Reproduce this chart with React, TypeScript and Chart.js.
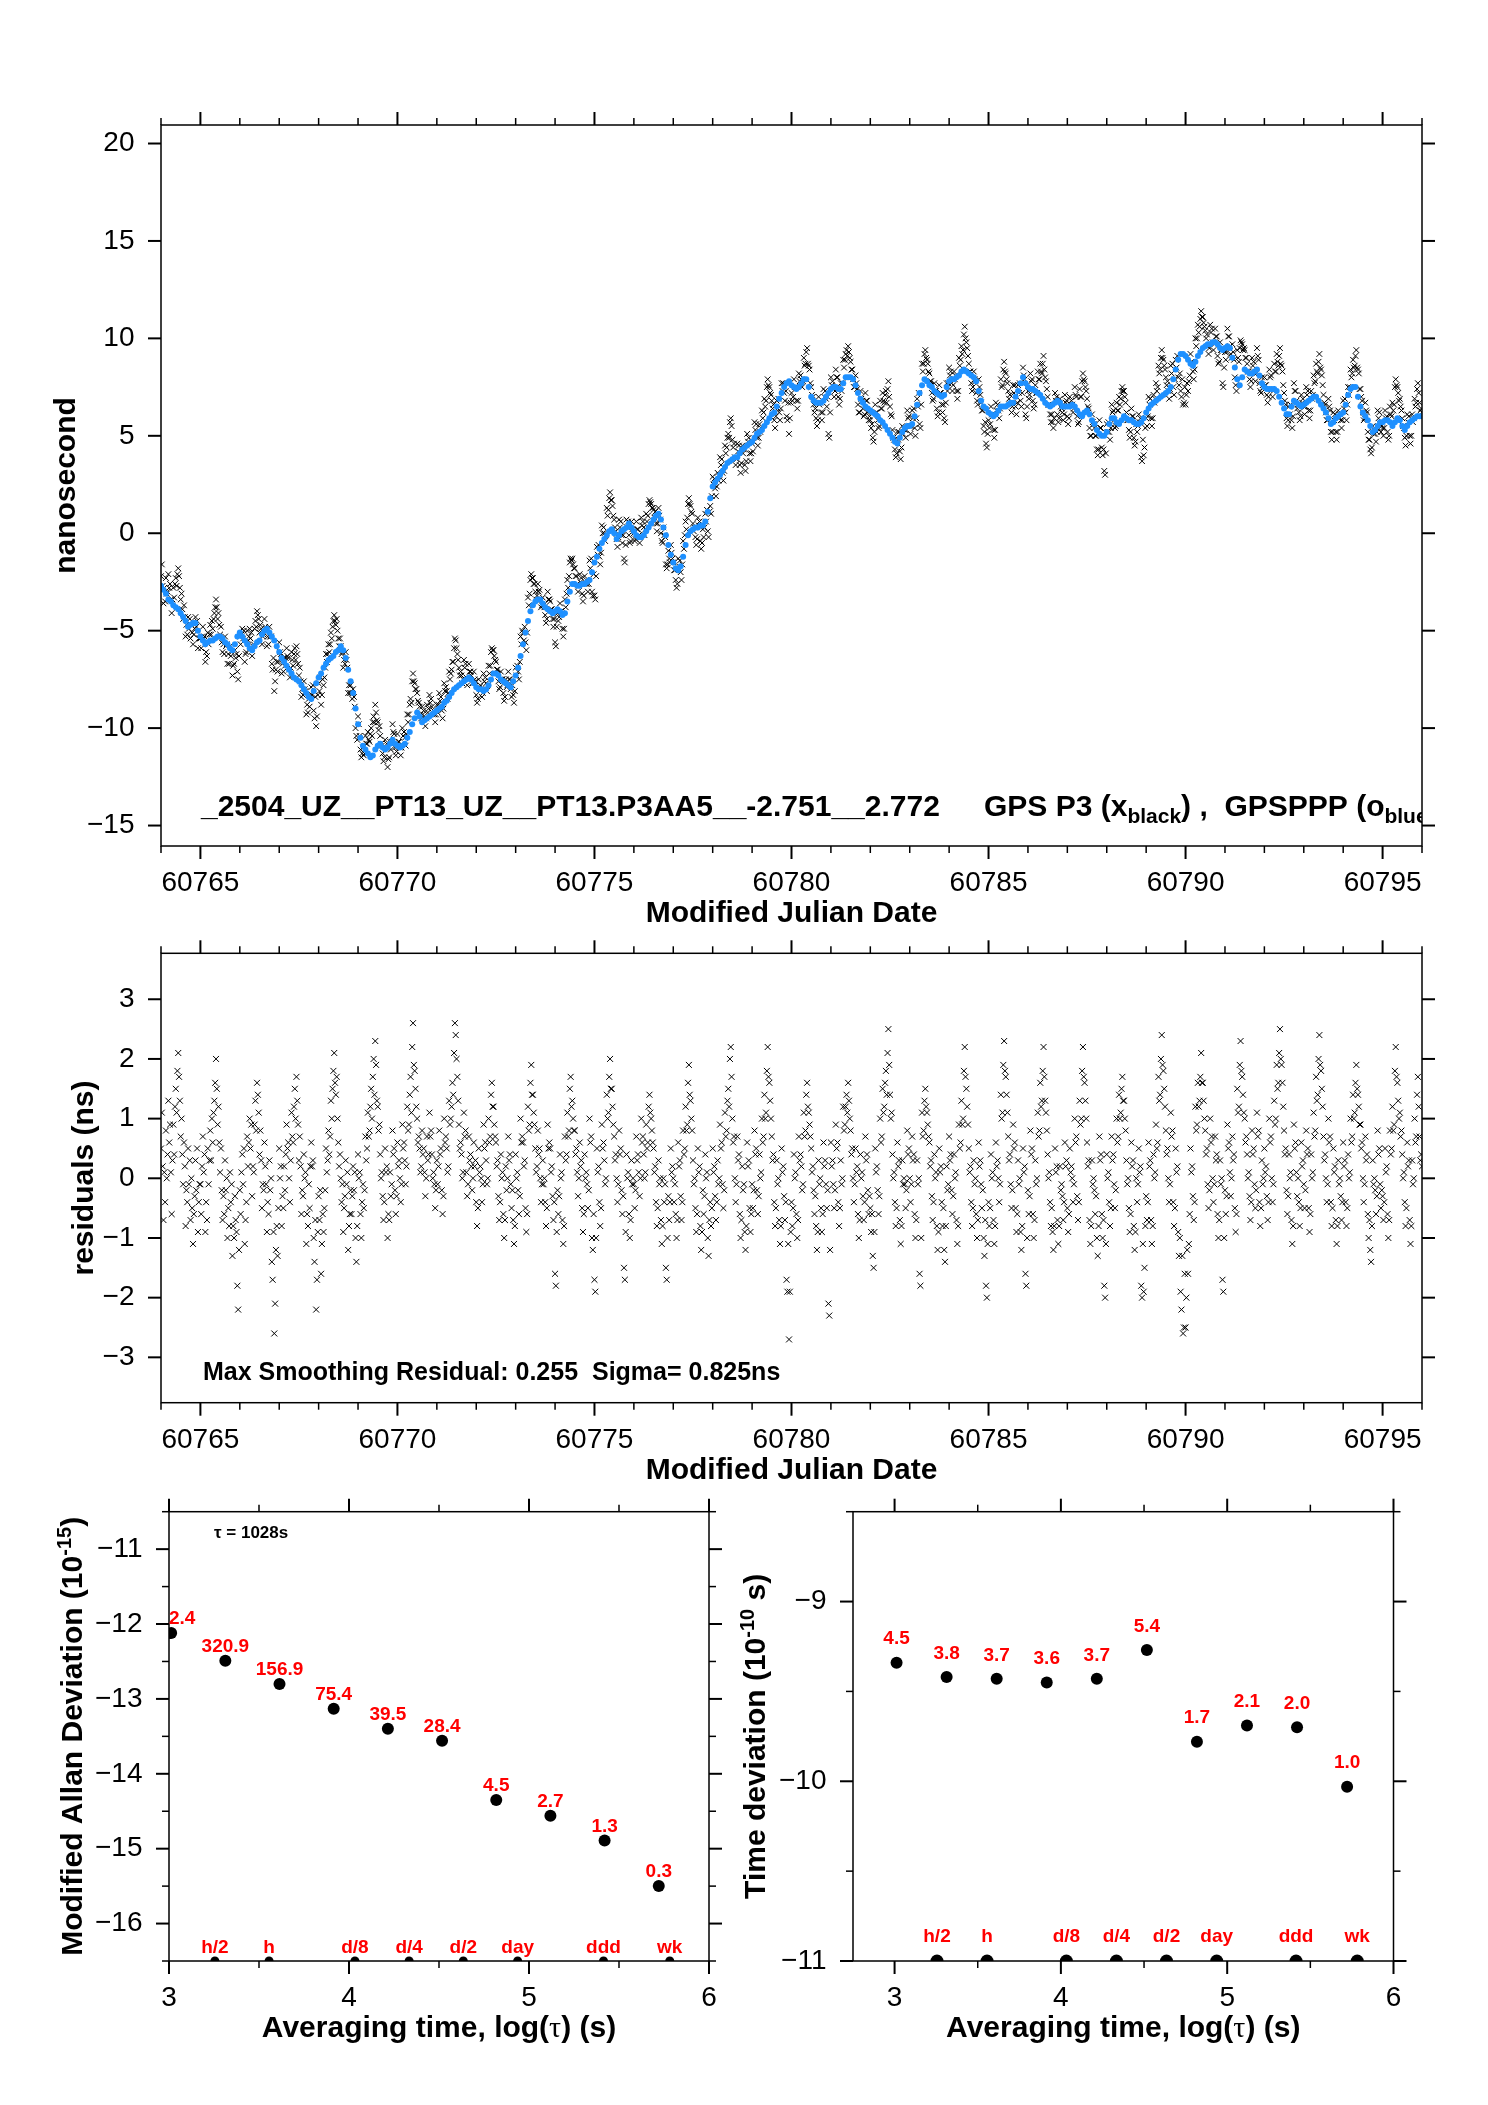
import React, { useEffect, useRef } from "react";
import { Chart, registerables } from "chart.js";

Chart.register(...registerables);

// ---------------- data ----------------
const MJD_START = 60764;
const SMOOTH_PER_DAY = 16;
const RESID_PER_DAY = 48;

// smoothed GPSPPP curve (blue), tenths of ns, 16 samples per day
const smoothTenthsNs = [
  -27, -29, -31, -34, -35, -37, -38, -39, -41, -43, -45, -48, -47, -46, -46, -50,
  -53, -55, -57, -56, -55, -55, -54, -53, -53, -54, -56, -57, -59, -60, -57, -53,
  -51, -53, -55, -57, -59, -60, -58, -56, -55, -52, -50, -49, -51, -53, -55, -58,
  -61, -64, -66, -68, -70, -72, -74, -75, -76, -78, -80, -82, -84, -85, -81, -77,
  -74, -72, -69, -67, -65, -64, -63, -61, -60, -58, -60, -64, -70, -76, -82, -90,
  -98, -105, -109, -111, -113, -115, -114, -111, -109, -108, -110, -111, -110, -108, -106, -108,
  -109, -110, -109, -108, -105, -102, -98, -95, -92, -94, -97, -96, -95, -94, -93, -92,
  -91, -90, -89, -87, -86, -84, -82, -80, -79, -78, -77, -76, -75, -74, -75, -77,
  -79, -80, -80, -81, -80, -78, -75, -72, -72, -73, -75, -76, -77, -78, -79, -76,
  -73, -69, -63, -57, -51, -45, -40, -37, -35, -34, -34, -36, -38, -39, -40, -41,
  -40, -39, -40, -42, -41, -35, -30, -26, -26, -27, -27, -26, -26, -25, -24, -20,
  -15, -12, -8, -5, -3, -1, 1, 2, 0, -3, -1, 1, 2, 3, 5, 3,
  1, -1, -2, -2, -1, 1, 3, 5, 7, 9, 10, 7, 3, -1, -6, -11,
  -15, -18, -19, -17, -12, -6, -1, 1, 2, 3, 3, 4, 4, 6, 11, 18,
  24, 26, 28, 30, 32, 34, 36, 37, 38, 39, 39, 41, 43, 44, 45, 46,
  47, 49, 51, 52, 53, 55, 57, 59, 61, 62, 65, 69, 72, 75, 77, 78,
  76, 75, 74, 75, 77, 79, 79, 75, 70, 68, 67, 67, 67, 68, 70, 72,
  74, 75, 75, 74, 74, 77, 80, 80, 80, 79, 76, 72, 69, 67, 65, 64,
  63, 62, 61, 60, 58, 57, 55, 53, 51, 49, 47, 46, 49, 52, 54, 55,
  55, 56, 60, 66, 72, 76, 79, 78, 76, 75, 73, 72, 71, 70, 71, 75,
  78, 79, 79, 80, 81, 83, 84, 83, 82, 81, 80, 78, 73, 68, 65, 64,
  62, 61, 60, 61, 63, 65, 65, 65, 66, 67, 67, 70, 73, 77, 80, 77,
  75, 74, 74, 73, 72, 71, 69, 67, 66, 65, 66, 67, 68, 67, 65, 65,
  65, 65, 66, 65, 63, 61, 60, 62, 63, 61, 58, 56, 53, 51, 50, 50,
  52, 56, 59, 59, 57, 56, 58, 60, 59, 58, 58, 57, 56, 56, 57, 59,
  62, 64, 66, 67, 68, 69, 70, 71, 72, 73, 75, 79, 84, 89, 92, 92,
  91, 89, 87, 86, 88, 91, 93, 95, 96, 97, 97, 98, 98, 97, 95, 94,
  95, 96, 95, 90, 85, 79, 76, 80, 84, 83, 82, 82, 83, 84, 81, 77,
  75, 74, 74, 74, 74, 73, 70, 67, 64, 61, 61, 65, 68, 67, 66, 65,
  66, 67, 68, 69, 70, 70, 68, 66, 64, 62, 59, 56, 57, 59, 60, 61,
  62, 66, 71, 74, 75, 75, 70, 65, 62, 60, 58, 55, 52, 53, 55, 57,
  57, 58, 58, 57, 55, 57, 59, 58, 55, 53, 55, 57, 58, 59, 60, 60,
  60,
];

// residuals of GPS P3 about the smoothed curve, tenths of ns, 48 samples per day
const residualTenthsNs = [
  5, 11, 2, -7, 1, -4, 8, 0, 4, 13, 6, 9, 1, -6, 3, 9, 4, 12, 15, 11, 18, 21, 17, 13, 7, 10, 4, -1, 6, 2, -8, -2, -4, 5, -1, 3, -7, 0, -5, -11, -6, -3, 3, -2, 5, -9, -4, -1,
  -1, -6, 2, 7, 1, 4, -9, -4, -7, 5, -1, 3, 8, 3, 10, 6, 11, 13, 16, 20, 15, 9, 12, 6, 1, 5, -2, -7, -3, -6, 3, -2, 0, -10, -5, -8, 1, -4, -1, -13, -8, -10, -3, -7, -9, -18, -22, -12,
  -2, -6, 1, 4, -1, 5, -11, -7, -4, 7, 2, 6, 10, 5, 9, -3, 2, 1, 9, 13, 8, 16, 14, 11, 4, 8, 3, -5, -1, -2, 6, 2, -1, -9, -4, -6, 3, -2, 0, -14, -17, -9, -26, -21, -12, -8, -13, -5,
  5, 0, 2, -8, -3, -5, 2, -2, 4, 9, 5, 6, 0, -4, 3, 11, 7, 6, 12, 15, 10, 17, 13, 9, 3, 7, 2, -6, -2, -3, 4, 0, 1, -11, -6, -8, -1, -5, 2, 6, 2, 3, -10, -14, -7, -22, -17, -9,
  -3, -7, -2, -16, -11, -6, -9, -5, -2, 5, 1, 3, 8, 4, 7, 13, 10, 15, 18, 21, 16, 14, 17, 10, 6, 2, 4, 0, -4, -1, -9, -5, -3, 3, -1, 1, -12, -8, -6, -2, -6, -3, 2, -2, 1, -10, -14, -8,
  4, 0, 1, -6, -10, -4, -1, -5, -2, 7, 3, 5, 11, 7, 8, 12, 15, 10, 17, 20, 14, 23, 19, 13, 12, 8, 9, 4, 0, 1, -3, -7, -4, 5, 1, 2, -10, -6, -7, 1, -3, -1, 8, 4, 5, -2, -6, -3,
  6, 2, 3, 0, -4, -1, 9, 5, 6, 3, -1, 2, 12, 8, 9, 14, 17, 11, 22, 26, 19, 18, 15, 12, 10, 6, 7, 5, 1, 2, 8, 4, 5, 1, -3, 0, 7, 3, 4, 11, 7, 8, 4, 0, 1, -1, -5, -2,
  3, -1, 2, 8, 4, 5, -2, -6, -3, 10, 6, 7, 5, 1, 2, 13, 9, 10, 12, 16, 14, 21, 26, 24, 20, 17, 13, 9, 5, 6, 4, 0, 1, 11, 7, 8, 1, -3, -1, 7, 3, 4, 2, -2, 0, 6, 2, 3,
  -4, -8, -5, 5, 1, 2, 0, -4, -1, 9, 5, 6, 3, -1, 0, 10, 6, 7, 14, 16, 12, 12, 9, 7, 6, 2, 3, -3, -7, -4, 4, 0, 1, -6, -10, -7, 2, -2, 0, 7, 3, 4, -1, -5, -2, -7, -11, -8,
  4, 0, 1, -2, -6, -3, 10, 6, 7, 6, 2, 3, -5, -9, -6, 12, 8, 9, 16, 19, 14, 14, 11, 9, 5, 1, 2, 8, 4, 5, 0, -4, -1, 3, -1, 0, -4, -8, -5, 9, 5, 6, 5, 1, 2, -3, -7, -4,
  -16, -18, -9, -2, -6, -3, 4, 0, 1, -7, -11, -8, 7, 3, 4, 11, 7, 8, 15, 17, 12, 13, 10, 8, 8, 4, 5, 1, -3, 0, 6, 2, 3, -5, -9, -6, 4, 0, 1, -1, -5, -2, 10, 6, 7, -10, -12, -6,
  -17, -19, -10, 5, 1, 2, -4, -8, -5, 9, 5, 6, 3, -1, 0, 14, 10, 11, 17, 20, 15, 15, 12, 9, 7, 3, 4, 0, -4, -1, 8, 4, 5, -2, -6, -3, -15, -17, -9, 4, 0, 1, -6, -10, -7, 3, -1, 0,
  -1, -5, -2, 7, 3, 4, 1, -3, 0, 10, 6, 7, 4, 0, 1, 9, 5, 6, 12, 14, 11, 10, 8, 6, 5, 1, 2, -4, -8, -5, 3, -1, 0, -7, -11, -8, 0, -4, -1, -15, -17, -10, -3, -7, -4, 5, 1, 2,
  0, -4, -1, -6, -10, -7, 6, 2, 3, -3, -7, -4, 8, 4, 5, 12, 8, 9, 16, 19, 14, 13, 10, 8, 3, -1, 0, -5, -9, -6, 5, 1, 2, -8, -12, -9, -2, -6, -3, 4, 0, 1, -10, -13, -7, -4, -8, -5,
  5, 1, 2, -3, -7, -4, 3, -1, 0, 9, 5, 6, -1, -5, -2, 11, 7, 8, 13, 15, 12, 20, 22, 17, 10, 6, 7, 0, -4, -1, 7, 3, 4, -6, -10, -7, 2, -2, -1, -9, -12, -8, 6, 2, 3, -5, -9, -6,
  -1, -5, -2, 8, 4, 5, -2, -6, -3, 4, 0, 1, 10, 6, 7, 14, 10, 11, 18, 22, 17, 16, 13, 10, 7, 3, 4, -4, -8, -5, 3, -1, 0, -7, -11, -8, 5, 1, 2, -3, -7, -4, -17, -19, -11, -27, -19, -9,
  -4, -8, -5, 4, 0, 1, -6, -10, -7, 7, 3, 4, 2, -2, -1, 11, 7, 8, 14, 16, 12, 11, 9, 7, 5, 1, 2, -2, -6, -3, -8, -12, -9, 3, -1, 0, -5, -9, -6, 6, 2, 3, -1, -5, -2, -21, -23, -12,
  6, 2, 3, -1, -5, -2, 9, 5, 6, -4, -8, -5, 3, -1, 0, 12, 8, 9, 12, 14, 11, 16, 13, 10, 8, 4, 5, 0, -4, -1, 5, 1, 2, -6, -10, -7, 4, 0, 1, -3, -7, -4, 7, 3, 4, -2, -6, -3,
  -5, -9, -6, -13, -15, -9, 5, 1, 2, -2, -6, -3, 10, 6, 7, 15, 11, 12, 16, 18, 14, 21, 25, 19, 14, 10, 11, 4, 0, 1, -4, -8, -5, 6, 2, 3, -7, -11, -8, 3, -1, 0, -1, -5, -2, 8, 4, 5,
  0, -4, -1, 7, 3, 4, -6, -10, -7, 3, -1, 0, -16, -18, -10, 11, 7, 8, 13, 15, 12, 11, 9, 7, 6, 2, 3, -3, -7, -4, 4, 0, 1, -8, -12, -9, 5, 1, 2, -4, -8, -5, -12, -14, -8, 2, -2, -1,
  7, 3, 4, -2, -6, -3, 4, 0, 1, -7, -11, -8, 9, 5, 6, 13, 9, 10, 18, 22, 17, 15, 12, 9, 5, 1, 2, -4, -8, -5, 3, -1, 0, -6, -10, -7, 6, 2, 3, -1, -5, -2, -10, -13, -7, -18, -20, -11,
  -4, -8, -5, 4, 0, 1, -7, -11, -8, 6, 2, 3, 0, -4, -1, 14, 10, 11, 19, 23, 18, 17, 14, 11, 7, 3, 4, -1, -5, -2, 9, 5, 6, -5, -9, -6, 3, -1, 0, -9, -12, -8, 5, 1, 2, -16, -18, -10,
  -2, -6, -3, 8, 4, 5, -6, -10, -7, 3, -1, 0, 11, 7, 8, 16, 12, 13, 18, 22, 17, 13, 11, 8, 4, 0, 1, -4, -8, -5, -9, -12, -8, 5, 1, 2, -7, -11, -8, 2, -2, -1, -3, -7, -4, 6, 2, 3,
  -5, -9, -6, 5, 1, 2, 0, -4, -1, 10, 6, 7, -3, -7, -4, 13, 9, 10, 18, 22, 17, 16, 13, 10, 6, 2, 3, -7, -11, -8, 3, -1, 0, -2, -6, -3, -10, -13, -8, 7, 3, 4, -6, -10, -7, -18, -20, -11,
  4, 0, 1, -4, -8, -5, 7, 3, 4, -1, -5, -2, 10, 6, 7, 14, 10, 11, 15, 17, 13, 13, 10, 8, 3, -1, 0, -5, -9, -6, 6, 2, 3, -8, -12, -9, 0, -4, -1, 5, 1, 2, -18, -20, -11, -19, -15, -8,
  -3, -7, -4, 6, 2, 3, -7, -11, -8, 4, 0, 1, 9, 5, 6, 17, 13, 14, 20, 24, 19, 18, 15, 12, 8, 4, 5, 0, -4, -1, 11, 7, 8, -4, -8, -5, 5, 1, 2, -9, -13, -10, -19, -22, -13, -26, -25, -16,
  -25, -20, -12, -16, -11, -6, 5, 1, 2, -3, -7, -4, 12, 8, 9, 16, 12, 13, 17, 21, 16, 16, 13, 10, 8, 4, 5, -1, -5, -2, 10, 6, 7, 0, -4, -1, 7, 3, 4, -6, -10, -7, 3, -1, 0, -17, -19, -10,
  -2, -6, -3, 9, 5, 6, 1, -3, 0, 7, 3, 4, -5, -9, -6, 15, 11, 12, 19, 23, 18, 17, 14, 11, 10, 6, 7, 4, 0, 1, -3, -7, -4, 8, 4, 5, -1, -5, -2, 11, 7, 8, -4, -8, -5, 3, -1, 0,
  5, 1, 2, -3, -7, -4, 10, 6, 7, 0, -4, -1, 13, 9, 10, 19, 15, 16, 21, 25, 20, 19, 16, 12, 8, 4, 5, -2, -6, -3, 4, 0, 1, -7, -11, -8, 9, 5, 6, 1, -3, 0, -4, -8, -5, 6, 2, 3,
  -1, -5, -2, 8, 4, 5, -5, -9, -6, 4, 0, 1, 11, 7, 8, 17, 13, 14, 20, 24, 19, 18, 15, 12, 7, 3, 4, 0, -4, -1, 10, 6, 7, -4, -8, -5, 5, 1, 2, -7, -11, -8, 3, -1, 0, -3, -7, -4,
  6, 2, 3, -4, -8, -5, 4, 0, 1, 10, 6, 7, 14, 10, 11, 16, 19, 15, 14, 12, 9, 9, 5, 6, 0, -4, -1, 7, 3, 4, -6, -10, -7, -12, -14, -8, 3, -1, 0, -2, -6, -3, 8, 4, 5, -1, -5, -2,
  -3, -7, -4, 5, 1, 2, -6, -10, -7, 8, 4, 5, 12, 8, 9, 18, 22, 17, 16, 13, 10, 11, 7, 8, 4, 0, 1, -4, -8, -5, 6, 2, 3, -7, -11, -8, 3, -1, 0, 10, 6, 7, 14, 17, 12, 7, 3, 4,
  2,
];

const mjdTickLabels = [60765, 60770, 60775, 60780, 60785, 60790, 60795];
const nsTickLabels = [-15, -10, -5, 0, 5, 10, 15, 20];
const residTickLabels = [-3, -2, -1, 0, 1, 2, 3];

const logTau = [3.012, 3.313, 3.614, 3.915, 4.216, 4.517, 4.818, 5.119, 5.42, 5.721];
const logModAdev = [-12.12, -12.49, -12.8, -13.13, -13.4, -13.56, -14.35, -14.56, -14.89, -15.5];
const modAdevNotes = ["2.4", "320.9", "156.9", "75.4", "39.5", "28.4", "4.5", "2.7", "1.3", "0.3"];
const logTdev = [-9.34, -9.42, -9.43, -9.45, -9.43, -9.27, -9.78, -9.69, -9.7, -10.03];
const tdevNotes = ["4.5", "3.8", "3.7", "3.6", "3.7", "5.4", "1.7", "2.1", "2.0", "1.0"];
const markerLogTau = [3.255, 3.556, 4.033, 4.334, 4.635, 4.937, 5.414, 5.782];
const markerNames = ["h/2", "h", "d/8", "d/4", "d/2", "day", "ddd", "wk"];
const logTauTickLabels = [3, 4, 5, 6];
const logTauMinorTicks = [3.5, 4.5, 5.5];
const adevTickLabels = [-16, -15, -14, -13, -12, -11];
const adevMinorTicks = [-16.5, -15.5, -14.5, -13.5, -12.5, -11.5, -10.5];
const tdevTickLabels = [-11, -10, -9];
const tdevMinorTicks = [-10.5, -9.5, -8.5];

// ---------------- styling ----------------
const FONT = '"Liberation Sans", Arial, Helvetica, sans-serif';
const TICK_FONT = `28px ${FONT}`;
const TITLE_FONT = `bold 30px ${FONT}`;
const SUP_FONT = `bold 20px ${FONT}`;
const TAU_FONT = `30px "Liberation Serif", "DejaVu Serif", serif`;
const RED = "#ff0000";
const BLUE = "#1e90ff";

type Run = { t: string; f: string; dy?: number };

function runsWidth(ctx: CanvasRenderingContext2D, runs: Run[]) {
  let w = 0;
  for (const r of runs) {
    ctx.font = r.f;
    w += ctx.measureText(r.t).width;
  }
  return w;
}
function drawRuns(ctx: CanvasRenderingContext2D, x: number, y: number, runs: Run[]) {
  let cx = x;
  for (const r of runs) {
    ctx.font = r.f;
    ctx.fillText(r.t, cx, y + (r.dy || 0));
    cx += ctx.measureText(r.t).width;
  }
  return cx;
}
const fmtMinus = (v: number) => String(v).replace("-", "\u2212");

interface FrameSpec {
  xMajor: number[];
  xMinor: number[];
  yMajor: number[];
  yMinor: number[];
  xLabel: (v: number) => string;
  yLabel: (v: number) => string;
  xTitle: Run[];
  yTitle: Run[];
  yTitleX: number;
  extra?: (chart: any) => void;
}

function framePlugin(spec: FrameSpec) {
  return {
    id: "frameDeco",
    afterDraw(chart: any) {
      const { ctx, chartArea: a } = chart;
      const xs = chart.scales.x;
      const ys = chart.scales.y;
      ctx.save();
      ctx.strokeStyle = "#000";
      ctx.lineWidth = 1.5;
      ctx.strokeRect(a.left, a.top, a.right - a.left, a.bottom - a.top);
      const seg = (x1: number, y1: number, x2: number, y2: number, w: number) => {
        ctx.lineWidth = w;
        ctx.beginPath();
        ctx.moveTo(x1, y1);
        ctx.lineTo(x2, y2);
        ctx.stroke();
      };
      for (const v of spec.xMinor) {
        const p = xs.getPixelForValue(v);
        seg(p, a.bottom, p, a.bottom + 7, 1.5);
        seg(p, a.top, p, a.top - 7, 1.5);
      }
      for (const v of spec.xMajor) {
        const p = xs.getPixelForValue(v);
        seg(p, a.bottom, p, a.bottom + 13, 2);
        seg(p, a.top, p, a.top - 13, 2);
      }
      for (const v of spec.yMinor) {
        const p = ys.getPixelForValue(v);
        seg(a.left, p, a.left - 7, p, 1.5);
        seg(a.right, p, a.right + 7, p, 1.5);
      }
      for (const v of spec.yMajor) {
        const p = ys.getPixelForValue(v);
        seg(a.left, p, a.left - 13, p, 2);
        seg(a.right, p, a.right + 13, p, 2);
      }
      ctx.fillStyle = "#000";
      ctx.font = TICK_FONT;
      ctx.textBaseline = "middle";
      ctx.textAlign = "center";
      for (const v of spec.xMajor) {
        ctx.fillText(spec.xLabel(v), xs.getPixelForValue(v), a.bottom + 37.5);
      }
      ctx.textAlign = "right";
      for (const v of spec.yMajor) {
        ctx.fillText(spec.yLabel(v), a.left - 26.5, ys.getPixelForValue(v));
      }
      ctx.textAlign = "left";
      const tw = runsWidth(ctx, spec.xTitle);
      drawRuns(ctx, (a.left + a.right) / 2 - tw / 2, a.bottom + 68, spec.xTitle);
      ctx.save();
      ctx.translate(spec.yTitleX, (a.top + a.bottom) / 2);
      ctx.rotate(-Math.PI / 2);
      const yw = runsWidth(ctx, spec.yTitle);
      drawRuns(ctx, -yw / 2, 0, spec.yTitle);
      ctx.restore();
      if (spec.extra) spec.extra(chart);
      ctx.restore();
    },
  };
}

function baseOptions(pad: any, xr: [number, number], yr: [number, number]) {
  return {
    animation: false as const,
    responsive: false,
    events: [],
    layout: { padding: pad, autoPadding: false },
    plugins: { legend: { display: false }, tooltip: { enabled: false }, title: { display: false } },
    scales: {
      x: { type: "linear" as const, min: xr[0], max: xr[1], display: false },
      y: { type: "linear" as const, min: yr[0], max: yr[1], display: false },
    },
  };
}

const smoothMjd = smoothTenthsNs.map((_, j) => MJD_START + j / SMOOTH_PER_DAY);
const residMjd = residualTenthsNs.map((_, i) => MJD_START + i / RESID_PER_DAY);
// the smoothed sample nearest in time to each P3 sample
const nearestSmooth = (i: number) =>
  smoothTenthsNs[Math.min(smoothTenthsNs.length - 1, Math.round((i * SMOOTH_PER_DAY) / RESID_PER_DAY))];

const mjdMinorTicks: number[] = [];
for (let d = 60764; d <= 60796; d++) if (!mjdTickLabels.includes(d)) mjdMinorTicks.push(d);

// ---------------- chart configs ----------------
function topConfig(): any {
  return {
    type: "scatter",
    data: {
      datasets: [
        {
          label: "GPSPPP",
          order: 0,
          data: smoothMjd.map((x, j) => ({ x, y: smoothTenthsNs[j] / 10 })),
          pointStyle: "circle",
          pointRadius: 3,
          backgroundColor: BLUE,
          borderWidth: 0,
        },
        {
          label: "GPS P3",
          order: 1,
          data: residMjd.map((x, i) => ({ x, y: (nearestSmooth(i) + residualTenthsNs[i]) / 10 })),
          pointStyle: "crossRot",
          pointRadius: 4,
          borderColor: "#000",
          borderWidth: 1,
        },
      ],
    },
    options: baseOptions({ left: 161, right: 66, top: 125, bottom: 89 }, [60764, 60796], [-16.05, 20.95]),
    plugins: [
      framePlugin({
        xMajor: mjdTickLabels,
        xMinor: mjdMinorTicks,
        yMajor: nsTickLabels,
        yMinor: [],
        xLabel: (v) => String(v),
        yLabel: fmtMinus,
        xTitle: [{ t: "Modified Julian Date", f: TITLE_FONT }],
        yTitle: [{ t: "nanosecond", f: TITLE_FONT }],
        yTitleX: 67,
        extra: (chart) => {
          const { ctx, chartArea: a } = chart;
          ctx.save();
          ctx.beginPath();
          ctx.rect(a.left, a.top, a.right - a.left, a.bottom - a.top);
          ctx.clip();
          ctx.fillStyle = "#000";
          ctx.textAlign = "left";
          ctx.textBaseline = "alphabetic";
          const big = `bold 30px ${FONT}`;
          const sub = `bold 21px ${FONT}`;
          const base = a.bottom - 30;
          drawRuns(ctx, a.left + 40, base, [{ t: "_2504_UZ__PT13_UZ__PT13.P3AA5__-2.751__2.772", f: big }]);
          drawRuns(ctx, a.left + 823, base, [
            { t: "GPS P3 (x", f: big },
            { t: "black", f: sub, dy: 7 },
            { t: ") ,  GPSPPP (o", f: big },
            { t: "blue", f: sub, dy: 7 },
            { t: ")", f: big },
          ]);
          ctx.restore();
        },
      }),
    ],
  };
}

function residConfig(): any {
  return {
    type: "scatter",
    data: {
      datasets: [
        {
          label: "residuals",
          data: residMjd.map((x, i) => ({ x, y: residualTenthsNs[i] / 10 })),
          pointStyle: "crossRot",
          pointRadius: 4.2,
          borderColor: "#000",
          borderWidth: 1,
        },
      ],
    },
    options: baseOptions({ left: 161, right: 66, top: 18.3, bottom: 92.3 }, [60764, 60796], [-3.76, 3.77]),
    plugins: [
      framePlugin({
        xMajor: mjdTickLabels,
        xMinor: mjdMinorTicks,
        yMajor: residTickLabels,
        yMinor: [],
        xLabel: (v) => String(v),
        yLabel: fmtMinus,
        xTitle: [{ t: "Modified Julian Date", f: TITLE_FONT }],
        yTitle: [{ t: "residuals (ns)", f: TITLE_FONT }],
        yTitleX: 85,
        extra: (chart) => {
          const { ctx, chartArea: a } = chart;
          ctx.fillStyle = "#000";
          ctx.textAlign = "left";
          ctx.textBaseline = "middle";
          ctx.font = `bold 25px ${FONT}`;
          ctx.fillText("Max Smoothing Residual: 0.255  Sigma= 0.825ns", a.left + 42, a.bottom - 30);
        },
      }),
    ],
  };
}

function notes(chart: any, xsVals: number[], ysVals: number[], texts: string[], lift: number) {
  const { ctx, chartArea: a } = chart;
  const xs = chart.scales.x;
  const ys = chart.scales.y;
  ctx.save();
  ctx.fillStyle = RED;
  ctx.font = `bold 19px ${FONT}`;
  ctx.textAlign = "center";
  ctx.textBaseline = "middle";
  for (let i = 0; i < texts.length; i++) {
    const w = ctx.measureText(texts[i]).width;
    let px = xs.getPixelForValue(xsVals[i]);
    if (px - w / 2 < a.left) px = a.left + w / 2;
    const py = ys.getPixelForValue(ysVals[i]) - lift;
    ctx.fillText(texts[i], px, py);
  }
  ctx.restore();
}

function markerNotes(chart: any, lift: number) {
  const { ctx, chartArea: a } = chart;
  const xs = chart.scales.x;
  ctx.save();
  ctx.fillStyle = RED;
  ctx.font = `bold 19px ${FONT}`;
  ctx.textAlign = "center";
  ctx.textBaseline = "middle";
  markerNames.forEach((t, i) => ctx.fillText(t, xs.getPixelForValue(markerLogTau[i]), a.bottom - lift));
  ctx.restore();
}

const tauTitle: Run[] = [
  { t: "Averaging time, log(", f: TITLE_FONT },
  { t: "\u03c4", f: TAU_FONT },
  { t: ") (s)", f: TITLE_FONT },
];

function adevConfig(): any {
  const yMin = -16.5;
  return {
    type: "scatter",
    data: {
      datasets: [
        {
          label: "mod adev",
          data: logTau.map((x, i) => ({ x, y: logModAdev[i] })),
          pointStyle: "circle",
          pointRadius: 6,
          backgroundColor: "#000",
          borderWidth: 0,
        },
        {
          label: "markers",
          data: markerLogTau.map((x) => ({ x, y: yMin })),
          pointStyle: "circle",
          pointRadius: 4.5,
          backgroundColor: "#000",
          borderWidth: 0,
        },
      ],
    },
    options: baseOptions({ left: 169, right: 31, top: 16.7, bottom: 144 }, [3, 6], [yMin, -10.5]),
    plugins: [
      framePlugin({
        xMajor: logTauTickLabels,
        xMinor: logTauMinorTicks,
        yMajor: adevTickLabels,
        yMinor: adevMinorTicks,
        xLabel: (v) => String(v),
        yLabel: fmtMinus,
        xTitle: tauTitle,
        yTitle: [
          { t: "Modified Allan Deviation (10", f: TITLE_FONT },
          { t: "-15", f: SUP_FONT, dy: -9 },
          { t: ")", f: TITLE_FONT },
        ],
        yTitleX: 74,
        extra: (chart) => {
          const { ctx, chartArea: a } = chart;
          ctx.save();
          ctx.fillStyle = "#000";
          ctx.textAlign = "left";
          ctx.textBaseline = "middle";
          ctx.font = `bold 17px ${FONT}`;
          ctx.fillText("\u03c4 = 1028s", a.left + 45, a.top + 22);
          ctx.beginPath();
          ctx.rect(a.left, a.top, a.right - a.left, a.bottom - a.top);
          ctx.clip();
          notes(chart, logTau, logModAdev, modAdevNotes, 14);
          markerNotes(chart, 13);
          ctx.restore();
        },
      }),
    ],
  };
}

function tdevConfig(): any {
  const yMin = -11;
  return {
    type: "scatter",
    data: {
      datasets: [
        {
          label: "tdev",
          data: logTau.map((x, i) => ({ x, y: logTdev[i] })),
          pointStyle: "circle",
          pointRadius: 6,
          backgroundColor: "#000",
          borderWidth: 0,
        },
        {
          label: "markers",
          data: markerLogTau.map((x) => ({ x, y: yMin })),
          pointStyle: "circle",
          pointRadius: 6.5,
          backgroundColor: "#000",
          borderWidth: 0,
        },
      ],
    },
    options: baseOptions({ left: 123, right: 94.5, top: 16.7, bottom: 144 }, [2.75, 6], [yMin, -8.5]),
    plugins: [
      framePlugin({
        xMajor: logTauTickLabels,
        xMinor: logTauMinorTicks,
        yMajor: tdevTickLabels,
        yMinor: tdevMinorTicks,
        xLabel: (v) => String(v),
        yLabel: fmtMinus,
        xTitle: tauTitle,
        yTitle: [
          { t: "Time deviation (10", f: TITLE_FONT },
          { t: "-10", f: SUP_FONT, dy: -9 },
          { t: " s)", f: TITLE_FONT },
        ],
        yTitleX: 27,
        extra: (chart) => {
          const { ctx, chartArea: a } = chart;
          ctx.save();
          ctx.beginPath();
          ctx.rect(a.left, a.top, a.right - a.left, a.bottom - a.top);
          ctx.clip();
          notes(chart, logTau, logTdev, tdevNotes, 23.5);
          markerNotes(chart, 24);
          ctx.restore();
        },
      }),
    ],
  };
}

// ---------------- components ----------------
function Panel(props: { left: number; top: number; width: number; height: number; make: () => any }) {
  const ref = useRef<HTMLCanvasElement>(null);
  useEffect(() => {
    const chart = new Chart(ref.current as HTMLCanvasElement, props.make());
    return () => chart.destroy();
  }, []);
  return (
    <canvas
      ref={ref}
      width={props.width}
      height={props.height}
      style={{ position: "absolute", left: props.left, top: props.top, width: props.width, height: props.height }}
    />
  );
}

export default function App() {
  return (
    <div
      style={{
        position: "absolute",
        left: 0,
        top: 0,
        width: 1488,
        height: 2105,
        background: "#ffffff",
        overflow: "hidden",
      }}
    >
      <Panel left={0} top={0} width={1488} height={935} make={topConfig} />
      <Panel left={0} top={935} width={1488} height={560} make={residConfig} />
      <Panel left={0} top={1495} width={740} height={610} make={adevConfig} />
      <Panel left={730} top={1495} width={758} height={610} make={tdevConfig} />
    </div>
  );
}
